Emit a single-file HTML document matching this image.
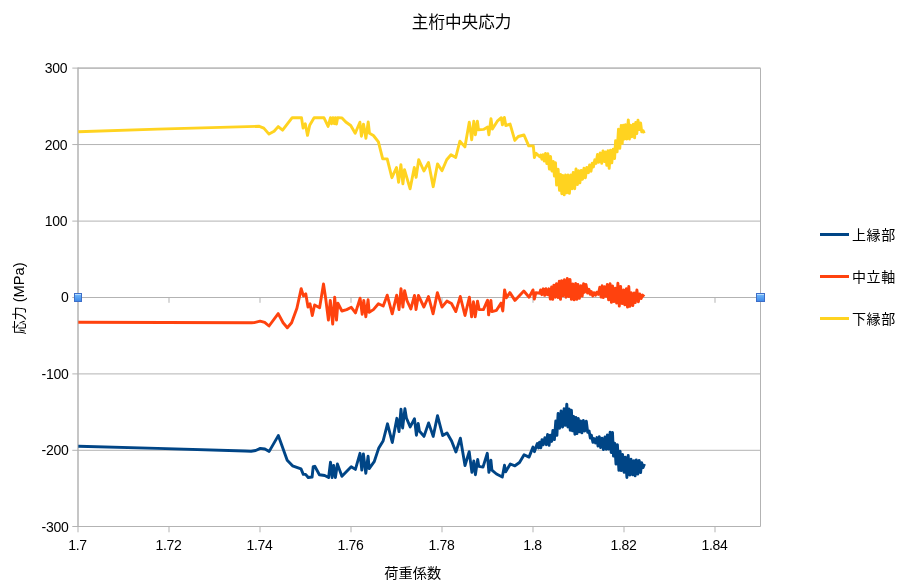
<!DOCTYPE html>
<html lang="ja"><head><meta charset="utf-8"><title>主桁中央応力</title>
<style>
html,body{margin:0;padding:0;background:#fff;}
body{width:914px;height:587px;overflow:hidden;position:relative;font-family:"Liberation Sans","Noto Sans CJK JP",sans-serif;color:#000;}
svg{position:absolute;left:0;top:0;display:block}
svg text{font-family:"Liberation Sans","Noto Sans CJK JP",sans-serif;fill:#000}
</style></head><body>
<svg width="914" height="587" viewBox="0 0 914 587">
<rect width="914" height="587" fill="#fff"/>

<g stroke="#b3b3b3" stroke-width="1" fill="none" shape-rendering="auto">
<line x1="72.3" y1="68.10" x2="760.5" y2="68.10"/>
<line x1="72.3" y1="144.55" x2="760.5" y2="144.55"/>
<line x1="72.3" y1="221.10" x2="760.5" y2="221.10"/>
<line x1="72.3" y1="297.50" x2="760.5" y2="297.50"/>
<line x1="72.3" y1="373.90" x2="760.5" y2="373.90"/>
<line x1="72.3" y1="450.30" x2="760.5" y2="450.30"/>
<line x1="72.3" y1="526.50" x2="760.5" y2="526.50"/>
<line x1="78.0" y1="67.6" x2="78.0" y2="526.5"/>
<line x1="78.0" y1="67.6" x2="78.0" y2="526.5"/>
<line x1="78.0" y1="68.1" x2="760.5" y2="68.1"/>
<line x1="760.5" y1="68.2" x2="760.5" y2="526.5"/>
<line x1="78.00" y1="526.5" x2="78.00" y2="532.3"/>
<line x1="169.00" y1="526.5" x2="169.00" y2="532.3"/>
<line x1="169.00" y1="297.5" x2="169.00" y2="302.8"/>
<line x1="260.00" y1="526.5" x2="260.00" y2="532.3"/>
<line x1="260.00" y1="297.5" x2="260.00" y2="302.8"/>
<line x1="351.00" y1="526.5" x2="351.00" y2="532.3"/>
<line x1="351.00" y1="297.5" x2="351.00" y2="302.8"/>
<line x1="442.00" y1="526.5" x2="442.00" y2="532.3"/>
<line x1="442.00" y1="297.5" x2="442.00" y2="302.8"/>
<line x1="533.00" y1="526.5" x2="533.00" y2="532.3"/>
<line x1="533.00" y1="297.5" x2="533.00" y2="302.8"/>
<line x1="624.00" y1="526.5" x2="624.00" y2="532.3"/>
<line x1="624.00" y1="297.5" x2="624.00" y2="302.8"/>
<line x1="715.00" y1="526.5" x2="715.00" y2="532.3"/>
<line x1="715.00" y1="297.5" x2="715.00" y2="302.8"/>
</g>
<path d="M78.3,446.3 L157.5,448.4 L245.0,451.0 L251.1,451.3 L255.7,450.5 L260.3,448.4 L264.9,449.0 L269.2,451.4 L278.3,435.6 L287.2,460.2 L292.5,465.8 L301.0,468.9 L303.3,474.4 L305.6,474.4 L308.2,477.5 L312.1,477.0 L313.2,466.7 L314.8,466.3 L319.4,474.7 L324.7,475.5 L328.6,477.5 L330.5,462.1 L332.1,477.5 L333.6,465.5 L335.4,477.5 L337.4,464.0 L341.9,476.3 L351.2,466.7 L355.4,469.4 L360.0,453.3 L361.8,470.1 L363.4,454.0 L365.8,473.2 L368.1,456.3 L369.2,468.6 L374.2,461.7 L378.8,447.9 L383.1,441.0 L387.5,423.8 L392.3,442.5 L396.9,418.3 L399.0,431.5 L401.0,409.1 L402.6,428.0 L404.9,408.8 L406.4,418.0 L410.2,426.9 L414.5,418.8 L416.4,435.2 L418.2,423.4 L419.4,431.0 L424.0,436.4 L428.6,422.9 L433.2,436.4 L437.5,415.7 L442.7,435.6 L447.0,433.0 L451.6,441.0 L455.9,452.0 L460.4,438.2 L465.0,465.5 L469.2,451.7 L471.9,472.4 L473.8,460.9 L475.4,474.7 L477.7,459.4 L478.8,466.3 L483.0,467.1 L487.3,453.3 L488.9,472.4 L490.9,460.2 L491.9,470.1 L496.5,474.0 L502.3,477.0 L504.5,465.2 L505.7,471.7 L510.3,464.0 L514.9,465.8 L519.5,462.5 L524.1,454.8 L529.0,457.1 L533.0,447.1 L534.4,451.7 L536.8,444.8 L537.3,443.6 L538.5,447.9 L539.6,442.1 L540.8,447.8 L542.0,439.8 L543.3,444.8 L544.9,437.6 L546.4,444.7 L547.6,434.4 L549.1,445.4 L550.2,435.1 L551.7,441.4 L552.9,430.5 L554.4,439.6 L555.8,420.9 L556.9,435.4 L558.1,413.5 L559.6,428.2 L561.1,411.0 L562.6,427.0 L564.1,408.8 L565.3,425.3 L566.8,404.1 L567.9,427.0 L569.1,408.9 L570.2,430.2 L571.4,410.2 L572.5,430.8 L573.7,416.5 L574.9,434.2 L575.9,417.5 L577.0,433.6 L578.3,418.5 L579.6,431.8 L580.7,421.0 L581.9,432.9 L583.4,420.5 L584.7,431.0 L586.3,421.3 L587.7,432.2 L589.1,431.0 L590.3,438.1 L591.4,435.2 L592.9,442.3 L594.0,438.6 L595.5,443.0 L596.9,437.6 L598.0,446.1 L599.3,436.7 L600.6,447.6 L602.1,438.1 L603.4,449.5 L605.0,436.9 L606.2,449.2 L607.4,434.9 L608.7,449.0 L610.1,432.3 L611.2,452.5 L612.5,432.5 L613.5,456.1 L614.7,443.1 L616.0,464.1 L617.4,444.6 L618.9,470.3 L620.1,451.1 L621.2,470.6 L622.6,454.5 L624.1,472.3 L625.4,457.1 L626.9,477.5 L628.2,455.5 L629.7,475.0 L631.1,459.3 L632.6,474.9 L634.0,460.6 L635.1,475.8 L636.3,459.9 L637.8,474.1 L639.2,460.4 L640.6,472.6 L641.6,462.6 L643.0,467.7 L644.5,464.0" fill="none" stroke="#004586" stroke-width="2.9" stroke-linejoin="round" stroke-linecap="butt"/>
<path d="M78.3,322.2 L251.6,322.8 L254.2,322.6 L260.1,321.2 L264.7,322.4 L269.0,326.0 L278.2,313.6 L283.1,322.8 L287.3,327.8 L291.6,322.8 L296.9,308.3 L301.2,288.6 L303.4,295.9 L305.8,293.9 L308.0,307.0 L310.0,303.7 L312.3,315.5 L314.6,305.0 L319.6,307.7 L323.5,284.0 L325.7,298.5 L328.4,320.1 L330.3,300.4 L332.7,324.1 L334.7,297.2 L336.5,320.1 L337.9,303.1 L341.9,311.0 L346.7,309.6 L351.3,307.3 L355.5,312.9 L360.1,298.2 L362.2,314.2 L363.8,300.4 L365.8,316.9 L368.1,299.8 L369.2,312.3 L373.4,309.6 L378.4,303.7 L383.2,306.0 L387.2,295.2 L392.2,313.8 L396.7,295.2 L399.0,309.6 L401.0,288.6 L402.9,307.0 L404.6,290.6 L406.9,300.4 L410.8,309.0 L414.5,295.5 L416.0,309.6 L418.4,295.5 L423.9,307.0 L428.5,296.5 L433.1,313.8 L437.4,292.6 L442.0,307.0 L446.9,301.1 L451.5,303.5 L455.8,311.6 L460.3,296.5 L465.0,315.5 L469.4,297.2 L471.6,316.9 L473.5,301.8 L475.2,316.9 L477.5,301.1 L479.2,309.6 L483.4,309.6 L487.6,300.2 L488.6,314.9 L490.9,300.4 L491.9,311.6 L496.5,310.3 L501.1,303.1 L502.8,311.0 L504.6,289.9 L506.4,297.8 L509.9,292.6 L514.9,300.4 L523.8,291.0 L529.1,297.2 L533.0,289.9 L534.3,299.1 L535.9,292.6 L539.8,293.2 L540.6,289.9 L541.8,294.7 L543.3,288.8 L544.7,295.4 L545.9,288.6 L547.4,294.7 L548.9,288.8 L550.3,299.0 L551.6,287.0 L552.7,299.3 L553.9,285.2 L555.3,297.2 L556.5,283.7 L558.1,297.5 L559.3,281.3 L560.5,299.4 L561.6,280.7 L563.1,295.7 L564.4,279.8 L565.9,297.2 L567.3,278.4 L568.7,296.6 L570.0,279.4 L571.4,299.3 L572.9,284.0 L574.1,299.9 L575.7,283.4 L576.8,299.4 L577.9,284.5 L579.4,298.4 L580.9,285.6 L582.2,296.1 L583.6,283.6 L584.6,292.3 L586.0,284.4 L587.5,293.1 L589.0,289.3 L590.2,294.4 L591.3,291.5 L592.7,295.9 L593.9,292.7 L595.5,295.3 L596.7,292.2 L598.3,294.4 L599.8,287.3 L601.1,297.0 L602.1,285.8 L603.3,297.6 L604.7,286.7 L606.0,296.3 L607.3,284.4 L608.6,299.9 L610.1,283.8 L611.4,302.3 L612.6,286.0 L613.9,301.6 L615.4,288.3 L616.6,303.1 L617.9,283.3 L619.3,306.1 L620.6,286.5 L622.2,303.6 L623.7,290.0 L624.8,304.8 L626.4,288.7 L627.5,307.1 L628.8,286.5 L629.9,306.4 L631.3,292.6 L632.8,305.5 L634.2,292.9 L635.3,302.5 L636.9,290.0 L638.4,301.8 L639.7,294.0 L641.2,298.6 L642.5,295.0 L644.3,296.5" fill="none" stroke="#ff420e" stroke-width="2.9" stroke-linejoin="round" stroke-linecap="butt"/>
<path d="M78.3,131.7 L157.5,129.1 L259.3,126.3 L263.8,128.1 L269.0,134.1 L274.1,131.3 L278.2,126.6 L282.6,130.2 L292.2,117.7 L301.5,117.7 L303.1,128.1 L305.3,123.7 L307.5,135.4 L309.7,125.3 L314.1,117.7 L323.9,117.7 L328.1,126.4 L330.5,117.7 L331.6,123.7 L332.9,117.7 L334.3,123.7 L335.4,117.7 L336.5,124.0 L337.6,117.7 L342.0,117.9 L345.8,122.0 L350.7,125.5 L355.2,133.3 L359.9,122.2 L361.4,136.2 L363.5,124.1 L365.9,138.3 L368.2,122.0 L369.5,133.3 L373.4,135.5 L378.4,141.9 L382.7,158.9 L387.2,158.9 L391.9,177.7 L396.5,167.5 L398.6,182.4 L400.9,164.6 L402.9,183.8 L404.5,169.6 L410.1,188.8 L414.3,167.5 L416.1,177.4 L418.7,159.7 L423.9,171.0 L428.5,162.5 L433.2,186.7 L437.5,163.9 L442.0,170.7 L446.7,159.7 L451.0,154.7 L455.7,157.5 L459.9,141.2 L464.9,146.9 L469.3,122.1 L471.7,139.7 L473.8,121.2 L475.4,134.8 L477.4,121.2 L478.5,129.8 L483.5,129.4 L487.7,126.9 L488.9,134.8 L491.0,118.8 L492.4,129.1 L497.3,121.2 L501.3,117.7 L502.4,124.8 L504.4,117.4 L505.8,125.5 L510.1,124.1 L514.8,140.4 L518.3,136.5 L524.0,135.0 L528.7,145.9 L533.3,145.9 L534.4,157.5 L536.1,153.3 L540.0,156.8 L540.8,155.0 L541.9,159.2 L543.0,154.7 L544.2,161.0 L545.5,153.5 L546.8,163.5 L547.9,153.8 L549.4,169.1 L550.5,156.4 L552.0,171.0 L553.3,161.5 L554.4,176.1 L555.5,162.8 L556.6,185.1 L558.1,169.2 L559.5,190.3 L560.7,174.5 L561.8,193.7 L562.9,175.5 L564.2,194.8 L565.5,175.0 L566.7,192.8 L568.1,174.9 L569.4,193.3 L570.9,175.0 L572.1,188.7 L573.2,172.5 L574.7,188.7 L576.0,169.0 L577.4,184.5 L578.7,170.8 L579.9,182.8 L581.2,170.4 L582.5,179.4 L584.0,168.1 L585.4,177.9 L586.8,167.5 L588.4,172.7 L589.6,164.9 L591.0,171.3 L592.3,163.1 L593.4,166.9 L594.8,159.8 L596.0,163.4 L597.5,154.5 L598.7,162.3 L600.2,153.0 L601.7,163.3 L603.0,150.9 L604.5,161.5 L605.6,152.0 L606.8,165.3 L608.0,150.8 L609.2,168.3 L610.5,150.1 L611.8,162.8 L613.2,149.2 L614.6,158.5 L615.6,140.7 L617.1,151.8 L618.5,129.2 L619.8,148.4 L621.2,125.5 L622.2,143.6 L623.4,125.1 L624.4,139.0 L625.5,124.7 L626.8,139.0 L628.3,119.9 L629.4,139.0 L630.6,125.3 L631.7,136.7 L633.3,124.3 L634.6,137.8 L635.7,122.5 L636.8,133.6 L638.0,120.2 L639.5,129.5 L640.6,122.9 L641.7,131.7 L643.2,130.8 L644.2,133.3" fill="none" stroke="#ffd320" stroke-width="2.9" stroke-linejoin="round" stroke-linecap="butt"/>
<defs><linearGradient id="hg" x1="0" y1="0" x2="0" y2="1"><stop offset="0" stop-color="#76bdfc"/><stop offset="1" stop-color="#3c87e8"/></linearGradient></defs>
<rect x="74.5" y="293.5" width="7" height="8" fill="url(#hg)" stroke="#3d6ec8" stroke-width="1"/>
<rect x="75" y="294" width="6" height="1" fill="#b4dcff"/>
<rect x="756.5" y="293.5" width="8" height="8" fill="url(#hg)" stroke="#3d6ec8" stroke-width="1"/>
<rect x="757" y="294" width="7" height="1" fill="#b4dcff"/>
<text x="67.3" y="73" font-size="14" letter-spacing="-0.3" text-anchor="end">300</text>
<text x="67.3" y="150" font-size="14" letter-spacing="-0.3" text-anchor="end">200</text>
<text x="67.3" y="226" font-size="14" letter-spacing="-0.3" text-anchor="end">100</text>
<text x="68.4" y="302" font-size="14" letter-spacing="-0.3" text-anchor="end">0</text>
<text x="68.4" y="379" font-size="14" letter-spacing="-0.3" text-anchor="end">-100</text>
<text x="68.4" y="455" font-size="14" letter-spacing="-0.3" text-anchor="end">-200</text>
<text x="68.4" y="532" font-size="14" letter-spacing="-0.3" text-anchor="end">-300</text>
<text x="77.50" y="550" font-size="14" letter-spacing="-0.3" text-anchor="middle">1.7</text>
<text x="168.50" y="550" font-size="14" letter-spacing="-0.3" text-anchor="middle">1.72</text>
<text x="259.50" y="550" font-size="14" letter-spacing="-0.3" text-anchor="middle">1.74</text>
<text x="350.50" y="550" font-size="14" letter-spacing="-0.3" text-anchor="middle">1.76</text>
<text x="441.50" y="550" font-size="14" letter-spacing="-0.3" text-anchor="middle">1.78</text>
<text x="532.50" y="550" font-size="14" letter-spacing="-0.3" text-anchor="middle">1.8</text>
<text x="623.50" y="550" font-size="14" letter-spacing="-0.3" text-anchor="middle">1.82</text>
<text x="714.50" y="550" font-size="14" letter-spacing="-0.3" text-anchor="middle">1.84</text>
<text x="461.6" y="28.1" font-size="16.6" text-anchor="middle">主桁中央応力</text>
<text x="412.7" y="578.4" font-size="14.2" text-anchor="middle">荷重係数</text>
<text transform="translate(24.3,298.5) rotate(-90)" font-size="14.67" text-anchor="middle"><tspan font-size="14.1">応力</tspan> (MPa)</text>
<line x1="820" y1="234.5" x2="849" y2="234.5" stroke="#004586" stroke-width="3"/>
<text x="852" y="240.0" font-size="14" letter-spacing="0.6">上縁部</text>
<line x1="820" y1="276.5" x2="849" y2="276.5" stroke="#ff420e" stroke-width="3"/>
<text x="852" y="282.0" font-size="14" letter-spacing="0.6">中立軸</text>
<line x1="820" y1="318.5" x2="849" y2="318.5" stroke="#ffd320" stroke-width="3"/>
<text x="852" y="324.0" font-size="14" letter-spacing="0.6">下縁部</text>
</svg></body></html>
